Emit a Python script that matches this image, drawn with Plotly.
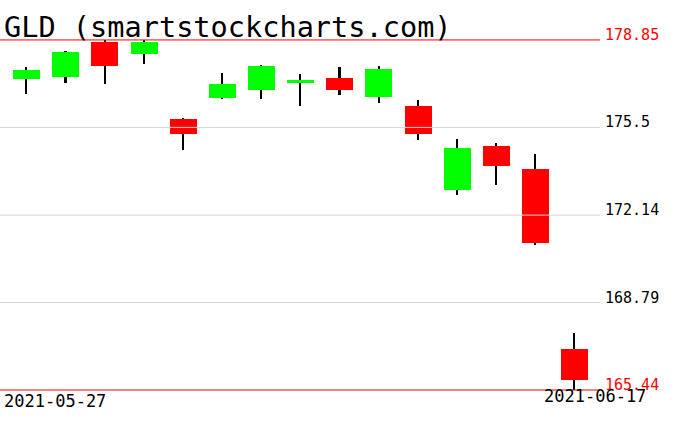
import plotly.graph_objects as go

dates = ["2021-05-27", "2021-05-28", "2021-06-01", "2021-06-02", "2021-06-03",
         "2021-06-04", "2021-06-07", "2021-06-08", "2021-06-09", "2021-06-10",
         "2021-06-11", "2021-06-14", "2021-06-15", "2021-06-16", "2021-06-17"]
opens  = [177.36, 177.43, 178.77, 178.33, 175.82, 176.63, 176.93, 177.21, 177.39, 176.67,
          176.32, 173.10, 174.79, 173.91, 167.01]
highs  = [177.83, 178.43, 178.85, 178.84, 175.86, 177.60, 177.89, 177.55, 177.83, 177.85,
          176.56, 175.06, 174.89, 174.48, 167.64]
lows   = [176.78, 177.21, 177.18, 177.94, 174.64, 176.59, 176.59, 176.33, 176.75, 176.45,
          175.02, 172.91, 173.31, 171.01, 165.44]
closes = [177.70, 178.39, 177.87, 178.77, 175.25, 177.16, 177.85, 177.32, 176.95, 177.74,
          175.24, 174.71, 174.03, 171.07, 165.83]
grid_levels = [175.5, 172.14, 168.79]
title_text = "GLD (smartstockcharts.com)"

hi = max(highs)
lo = min(lows)
idx = list(range(len(dates)))

fig = go.Figure()
# wicks (drawn first, as thin bars, so bodies cover them)
fig.add_trace(go.Bar(
    x=idx, base=lows, y=[h - l for h, l in zip(highs, lows)],
    marker=dict(color="black", line=dict(width=0)),
    width=0.04, showlegend=False, hoverinfo="skip"))
# bodies
fig.add_trace(go.Bar(
    x=idx,
    base=[min(o, c) for o, c in zip(opens, closes)],
    y=[abs(c - o) for o, c in zip(opens, closes)],
    marker=dict(color=["#00ff00" if c >= o else "#ff0000" for o, c in zip(opens, closes)],
                line=dict(width=0)),
    width=0.69, showlegend=False, hoverinfo="skip"))

shapes = []
annotations = []
mono = "DejaVu Sans Mono"
for g in grid_levels:
    shapes.append(dict(type="line", xref="paper", x0=0, x1=1, yref="y", y0=g, y1=g,
                       line=dict(color="#d3d3d3", width=1), layer="above"))
    annotations.append(dict(xref="paper", x=1, yref="y", y=g, text=f"{g:g}", showarrow=False,
                            xanchor="left", yanchor="middle", xshift=3, yshift=5,
                            font=dict(family=mono, size=15, color="black")))
for r in [hi, lo]:
    shapes.append(dict(type="line", xref="paper", x0=0, x1=1, yref="y", y0=r, y1=r,
                       line=dict(color="#ff0000", width=1), layer="above"))
    annotations.append(dict(xref="paper", x=1, yref="y", y=r, text=f"{r:.2f}", showarrow=False,
                            xanchor="left", yanchor="middle", xshift=3, yshift=5,
                            font=dict(family=mono, size=15, color="#ff0000")))

annotations.append(dict(xref="paper", x=0, yref="y", y=lo, text=dates[0], showarrow=False,
                        xanchor="left", yanchor="middle", xshift=2, yshift=-11,
                        font=dict(family=mono, size=17, color="black")))
annotations.append(dict(xref="paper", x=1, yref="y", y=lo, text=dates[-1], showarrow=False,
                        xanchor="right", yanchor="middle", xshift=48, yshift=-6,
                        font=dict(family=mono, size=17, color="black")))
annotations.append(dict(xref="paper", x=0, yref="paper", y=1, text=title_text, showarrow=False,
                        xanchor="left", yanchor="top", xshift=2, yshift=-8,
                        font=dict(family=mono, size=28.6, color="black")))

fig.update_layout(
    width=676, height=431,
    margin=dict(l=0, r=76, t=0, b=0),
    paper_bgcolor="white", plot_bgcolor="white",
    xaxis=dict(range=[-0.68, 14.65], visible=False, fixedrange=True),
    yaxis=dict(range=[163.87, 180.38], visible=False, fixedrange=True),
    shapes=shapes, annotations=annotations,
    barmode="overlay", bargap=0, showlegend=False,
)
fig.write_html("out.html", config={"displayModeBar": False},
               post_script="document.body.style.margin='0';")
